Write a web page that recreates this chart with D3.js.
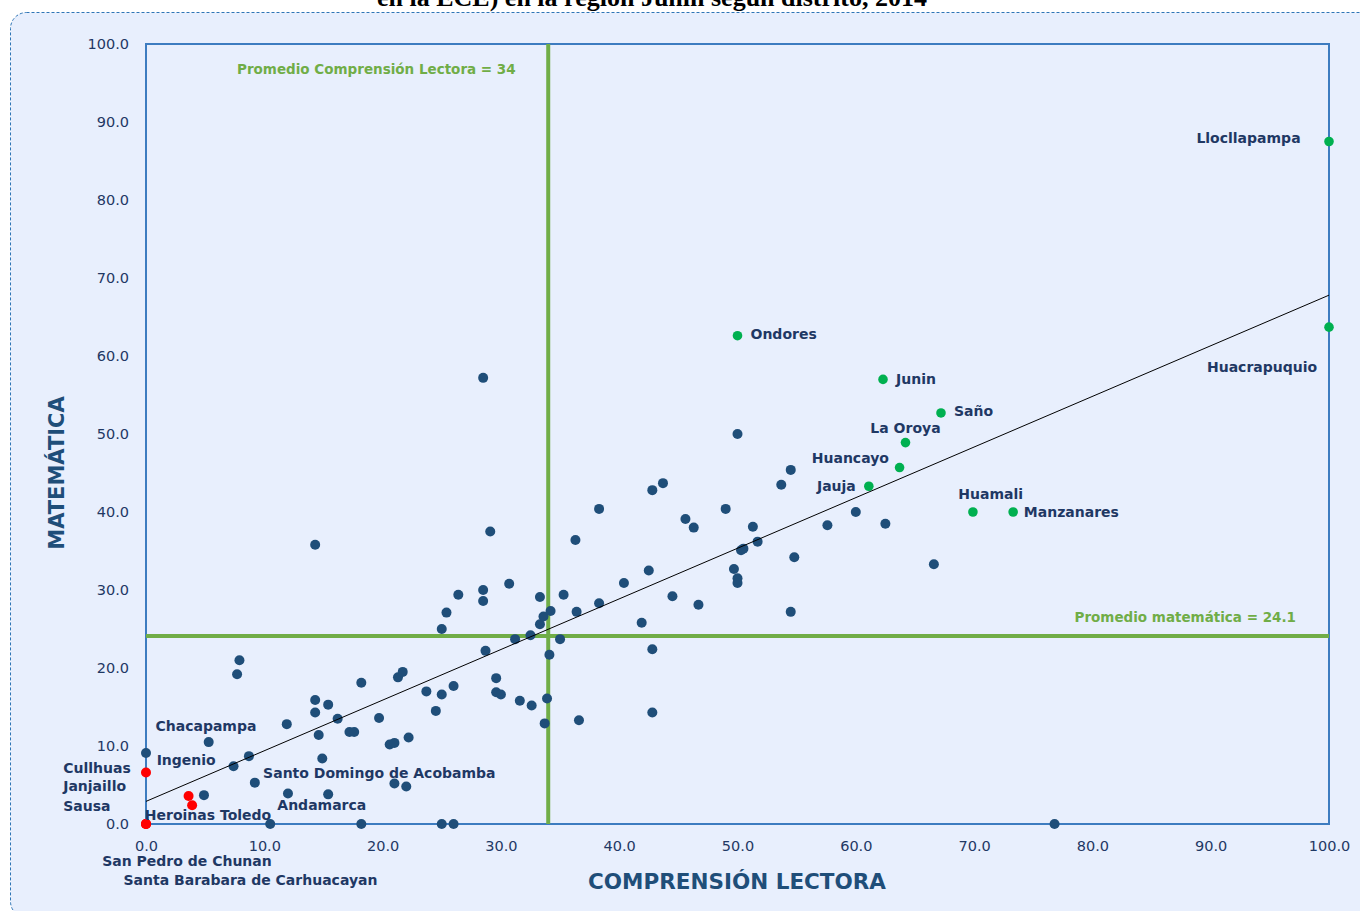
<!DOCTYPE html>
<html>
<head>
<meta charset="utf-8">
<script src="https://cdn.jsdelivr.net/npm/d3@7"></script>
<style>
  html, body { margin: 0; padding: 0; background: #ffffff; }
  svg { display: block; }
</style>
</head>
<body>
<svg id="chart" width="1360" height="911"></svg>
<script>
// ---------------- DATA ----------------
const titleText = "en la ECE) en la región Junín según distrito, 2014";
const xTitle = "COMPRENSIÓN LECTORA";
const yTitle = "MATEMÁTICA";
const tickValues = [0, 10, 20, 30, 40, 50, 60, 70, 80, 90, 100];

// Other districts (dark points): comprensión lectora / matemática
const otherCL = [0.0, 4.9, 5.3, 7.4, 7.7, 7.9, 8.7, 9.2, 10.5, 11.9, 12.0, 14.3, 14.3, 14.6, 14.9, 15.4, 15.4, 16.2, 17.2, 17.6,
  18.2, 18.2, 19.7, 20.6, 21.0, 21.0, 21.3, 21.7, 22.0, 22.2, 23.7, 24.5, 25.0, 26.0, 25.0, 26.0, 25.0, 25.4, 26.4, 28.5,
  28.5, 28.7, 28.5, 29.1, 14.3, 29.6, 29.6, 30.0, 30.7, 31.2, 31.6, 32.5, 32.6, 33.3, 33.3, 33.6, 34.2, 33.9, 33.7, 34.1,
  35.0, 35.3, 36.3, 36.4, 36.6, 38.3, 38.3, 40.4, 41.9, 42.5, 42.8, 42.8, 42.8, 43.7, 44.5, 45.6, 46.3, 46.7, 49.0, 49.7,
  50.0, 50.0, 50.0, 50.3, 50.5, 51.3, 51.7, 53.7, 54.5, 54.8, 54.5, 57.6, 60.0, 62.5, 66.6, 76.8];
const otherMat = [9.1, 3.7, 10.5, 7.4, 19.2, 21.0, 8.7, 5.3, 0.0, 12.8, 3.9, 14.3, 15.9, 11.4, 8.4, 15.3, 3.8, 13.5, 11.8, 11.8,
  18.1, 0.0, 13.6, 10.2, 10.4, 5.2, 18.8, 19.5, 4.8, 11.1, 17.0, 14.5, 16.6, 17.7, 0.0, 0.0, 25.0, 27.1, 29.4, 30.0,
  28.6, 22.2, 57.2, 37.5, 35.8, 18.7, 16.9, 16.6, 30.8, 23.7, 15.8, 24.2, 15.2, 29.1, 25.6, 26.6, 27.3, 16.1, 12.9, 21.7,
  23.7, 29.4, 36.4, 27.2, 13.3, 28.3, 40.4, 30.9, 25.8, 32.5, 42.8, 22.4, 14.3, 43.7, 29.2, 39.1, 38.0, 28.1, 40.4, 32.7,
  31.5, 30.9, 50.0, 35.1, 35.3, 38.1, 36.2, 43.5, 45.4, 34.2, 27.2, 38.3, 40.0, 38.5, 33.3, 0.0];

// Best districts (green)
const topNames = ["Ondores", "Junin", "Saño", "La Oroya", "Huancayo", "Jauja", "Huamali", "Manzanares", "Llocllapampa", "Huacrapuquio"];
const topCL  = [50.0, 62.3, 67.2, 64.2, 63.7, 61.1, 69.9, 73.3, 100.0, 100.0];
const topMat = [62.6, 57.0, 52.7, 48.9, 45.7, 43.3, 40.0, 40.0, 87.5, 63.7];

// Lowest districts (red)
const lowNames = ["Cullhuas", "Janjaillo", "Sausa", "Heroinas Toledo", "San Pedro de Chunan", "Santa Barabara de Carhuacayan"];
const lowCL  = [0.0, 3.6, 3.9, 0.0, 0.0, 0.0];
const lowMat = [6.6, 3.6, 2.4, 0.0, 0.0, 0.0];

// Label texts and their anchor positions (chart units)
const labelNames = ["Llocllapampa", "Huacrapuquio", "Ondores", "Junin", "Saño", "La Oroya", "Huancayo", "Jauja", "Huamali", "Manzanares",
  "Chacapampa", "Ingenio", "Cullhuas", "Janjaillo", "Sausa", "Heroinas Toledo", "Santo Domingo de Acobamba", "Andamarca",
  "San Pedro de Chunan", "Santa Barabara de Carhuacayan"];
const labelCL  = [97.6, 99.0, 51.1, 63.4, 68.3, 64.2, 62.8, 60.0, 71.4, 74.2,
  0.8, 0.9, -7.0, -7.0, -7.0, -0.1, 9.9, 11.1, -3.7, -1.9];
const labelMat = [88.0, 58.6, 62.8, 57.1, 53.0, 50.8, 46.9, 43.3, 42.3, 40.0,
  12.6, 8.2, 7.2, 4.9, 2.3, 1.2, 6.5, 2.4, -4.7, -7.2];
const labelAnchor = ["end", "end", "start", "start", "start", "middle", "end", "end", "middle", "start",
  "start", "start", "start", "start", "start", "start", "start", "start", "start", "start"];

// Averages and trend line
const avgCL = 34;
const avgMat = 24.1;
const avgCLLabel = "Promedio Comprensión Lectora = 34";
const avgMatLabel = "Promedio matemática = 24.1";
const trendCL  = [0, 100];
const trendMat = [2.9, 67.8];

// ---------------- DRAW ----------------
const svg = d3.select("#chart");
const navy = "#1F3864";
const titleBlue = "#1F4E79";
const green = "#70AD47";
const frameBlue = "#3D7CC0";

// Background panel
svg.append("rect").attr("x", 10.5).attr("y", 12.5).attr("width", 1370).attr("height", 905)
  .attr("rx", 16).attr("ry", 16)
  .attr("fill", "#E8EFFD").attr("stroke", "#2E75B6").attr("stroke-width", 1)
  .attr("stroke-dasharray", "3,2");

// Title (top lines fall outside the picture, as in the source)
svg.append("text").attr("x", 652).attr("y", 6)
  .attr("text-anchor", "middle")
  .attr("font-family", "Liberation Serif, serif").attr("font-weight", "bold").attr("font-size", 26)
  .attr("fill", "#000").text(titleText);

const x = d3.scaleLinear().domain([0, 100]).range([146, 1329]);
const y = d3.scaleLinear().domain([0, 100]).range([824, 44]);

// Axes (labels)
const fmt = d3.format(".1f");
const gy = svg.append("g").attr("transform", `translate(${x(0)},0)`)
  .call(d3.axisLeft(y).tickValues(tickValues).tickFormat(fmt).tickSize(0).tickPadding(17));
const gx = svg.append("g").attr("transform", `translate(0,${y(0)})`)
  .call(d3.axisBottom(x).tickValues(tickValues).tickFormat(fmt).tickSize(0).tickPadding(17));
[gx, gy].forEach(g => {
  g.select(".domain").remove();
  g.selectAll("text").attr("font-family", "DejaVu Sans, sans-serif").attr("font-size", 14.5).attr("fill", navy);
});

// Plot frame
svg.append("rect").attr("x", x(0)).attr("y", y(100)).attr("width", x(100) - x(0)).attr("height", y(0) - y(100))
  .attr("fill", "none").attr("stroke", frameBlue).attr("stroke-width", 2);

// Axis titles
svg.append("text").attr("x", 737).attr("y", 881)
  .attr("text-anchor", "middle").attr("dominant-baseline", "central")
  .attr("font-family", "DejaVu Sans, sans-serif").attr("font-weight", "bold").attr("font-size", 21.5)
  .attr("fill", titleBlue).text(xTitle);
svg.append("text").attr("transform", `translate(57,473) rotate(-90)`)
  .attr("text-anchor", "middle").attr("dominant-baseline", "central")
  .attr("font-family", "DejaVu Sans, sans-serif").attr("font-weight", "bold").attr("font-size", 21)
  .attr("fill", titleBlue).text(yTitle);

// Average lines
svg.append("line").attr("x1", x(avgCL)).attr("x2", x(avgCL)).attr("y1", y(100)).attr("y2", y(0))
  .attr("stroke", green).attr("stroke-width", 4);
svg.append("line").attr("x1", x(0)).attr("x2", x(100)).attr("y1", y(avgMat)).attr("y2", y(avgMat))
  .attr("stroke", green).attr("stroke-width", 4);
svg.append("text").attr("x", 237).attr("y", 69).attr("dominant-baseline", "central")
  .attr("font-family", "DejaVu Sans, sans-serif").attr("font-weight", "bold").attr("font-size", 13.5)
  .attr("fill", green).text(avgCLLabel);
svg.append("text").attr("x", 1296).attr("y", 617).attr("text-anchor", "end").attr("dominant-baseline", "central")
  .attr("font-family", "DejaVu Sans, sans-serif").attr("font-weight", "bold").attr("font-size", 13.5)
  .attr("fill", green).text(avgMatLabel);

// Points
const dots = svg.append("g");
dots.selectAll("circle.other").data(d3.range(otherCL.length)).join("circle").attr("class", "other")
  .attr("cx", i => x(otherCL[i])).attr("cy", i => y(otherMat[i])).attr("r", 5).attr("fill", "#1F4E79");
dots.selectAll("circle.top").data(d3.range(topCL.length)).join("circle").attr("class", "top")
  .attr("cx", i => x(topCL[i])).attr("cy", i => y(topMat[i])).attr("r", 4.8).attr("fill", "#00B050");
dots.selectAll("circle.low").data(d3.range(lowCL.length)).join("circle").attr("class", "low")
  .attr("cx", i => x(lowCL[i])).attr("cy", i => y(lowMat[i])).attr("r", 5).attr("fill", "#FF0000");

// Trend line
svg.append("line").attr("x1", x(trendCL[0])).attr("y1", y(trendMat[0]))
  .attr("x2", x(trendCL[1])).attr("y2", y(trendMat[1]))
  .attr("stroke", "#000").attr("stroke-width", 1);

// Labels
svg.append("g").selectAll("text").data(d3.range(labelNames.length)).join("text")
  .attr("x", i => x(labelCL[i])).attr("y", i => y(labelMat[i]))
  .attr("text-anchor", i => labelAnchor[i]).attr("dominant-baseline", "central")
  .attr("font-family", "DejaVu Sans, sans-serif").attr("font-weight", "bold").attr("font-size", 14)
  .attr("fill", navy).text(i => labelNames[i]);
</script>
</body>
</html>
